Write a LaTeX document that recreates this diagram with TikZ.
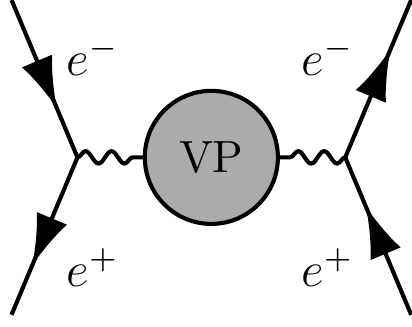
\documentclass[tikz,border=0pt]{standalone}
\usetikzlibrary{arrows.meta,decorations.pathmorphing,decorations.markings}

\definecolor{blobgray}{gray}{0.67}

\tikzset{
  fermion/.style={line width=1pt, postaction={decorate},
    decoration={markings, mark=at position 0.69 with {\arrow{Latex[length=12.5pt,width=8pt]}}}},
  photon/.style={line width=1pt, decorate,
    decoration={snake, amplitude=1.5pt, segment length=6.3pt}},
  blob/.style={circle, draw, line width=1pt, fill=blobgray, minimum size=32.3pt, inner sep=0pt,
    font=\fontsize{10.95}{13}\selectfont}
}

\begin{document}
\begin{tikzpicture}[ x=1pt, y=1pt ]
\useasboundingbox (0,0) rectangle (100,-79.37);

\node[blob] (vp) at (51.3,-38.2) {VP};

\coordinate (v1) at (18.8,-38.2);
\coordinate (v2) at (83.8,-38.2);
\coordinate (i1) at (2.8,0);
\coordinate (i2) at (2.8,-76.4);
\coordinate (f1) at (99.8,0);
\coordinate (f2) at (99.8,-76.4);

\draw[fermion] (i1) -- (v1);
\draw[fermion] (v1) -- (i2);
\draw[fermion] (v2) -- (f1);
\draw[fermion] (f2) -- (v2);

\draw[photon] (v1) -- (vp);
\draw[photon] (v2) -- (vp);

\node[font=\large] (em1) at (22.5,-13.8) {$e^-$};
\node[font=\large] (ep1) at (22.5,-65) {$e^+$};
\node[font=\large] (em2) at (79.5,-13.8) {$e^-$};
\node[font=\large] (ep2) at (79.5,-65) {$e^+$};

\end{tikzpicture}
\end{document}
